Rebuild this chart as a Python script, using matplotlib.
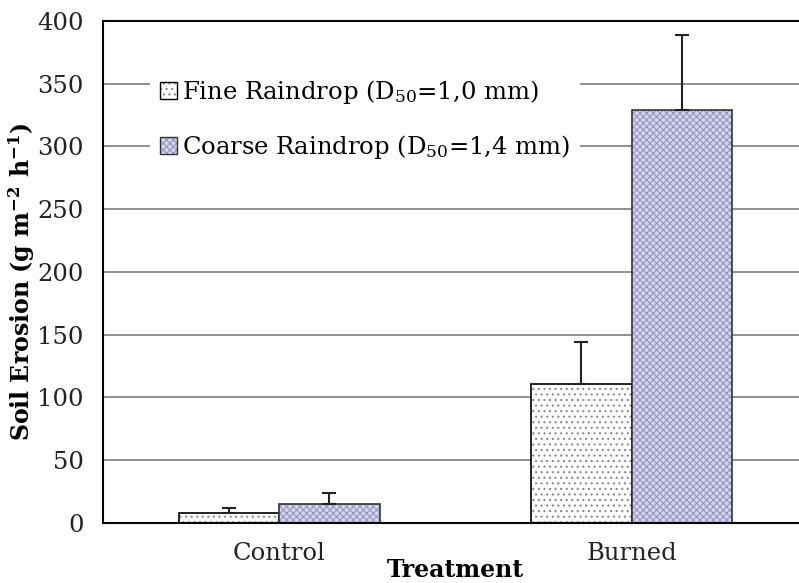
import numpy as np
import matplotlib
matplotlib.use('Agg')
import matplotlib.pyplot as plt
from matplotlib.colors import to_rgba

plt.rcParams['font.family'] = ['DejaVu Serif']
plt.rcParams['mathtext.fontset'] = 'dejavuserif'
plt.rcParams['hatch.linewidth'] = 0.8

treatments = ['Control', 'Burned']
fine_mean = [8, 111]
fine_err = [4, 33]
coarse_mean = [15, 329]
coarse_err = [9, 60]
labels = ['Fine Raindrop (D$_{50}$=1,0 mm)', 'Coarse Raindrop (D$_{50}$=1,4 mm)']

fig = plt.figure(figsize=(7.99, 5.83), dpi=100)
ax = fig.add_axes([0.129, 0.103, 0.882, 0.861])

x = np.arange(len(treatments))
w = 0.285

b1 = ax.bar(x - w / 2, fine_mean, w, color='white', edgecolor='black', linewidth=1.2,
            hatch='...', label=labels[0], zorder=2)
ax.errorbar(x - w / 2, fine_mean, yerr=[np.zeros(2), fine_err], fmt='none',
            ecolor='#222222', elinewidth=1.5, capsize=5, capthick=1.5, zorder=3)

b2 = ax.bar(x + w / 2, coarse_mean, w, color='#d6d6ea', edgecolor='#333333', linewidth=1.2,
            hatch='xxxxx', label=labels[1], zorder=2)
ax.errorbar(x + w / 2, coarse_mean, yerr=[np.zeros(2), coarse_err], fmt='none',
            ecolor='#222222', elinewidth=1.5, capsize=5, capthick=1.5, zorder=3)

# hatch colours per series
for p in b1:
    p._hatch_color = to_rgba('#888888')
for p in b2:
    p._hatch_color = to_rgba('#9595c4')

ax.set_xlim(-0.5, 1.5)
ax.set_ylim(0, 400)
ax.set_yticks(range(0, 401, 50))
ax.set_xticks(x)
ax.set_xticklabels(treatments)
ax.yaxis.grid(True, color='#888888', linewidth=1.3, zorder=0)
ax.set_axisbelow(True)
ax.tick_params(length=0, labelsize=17.5, colors='#222222')
ax.tick_params(axis='y', pad=14)
ax.tick_params(axis='x', pad=14)
ax.spines['right'].set_visible(False)
for s in ['left', 'bottom', 'top']:
    ax.spines[s].set_linewidth(1.5)

ax.set_ylabel('Soil Erosion (g m$^{\\mathbf{-2}}$ h$^{\\mathbf{-1}}$)', fontsize=17,
              fontweight='bold')
ax.yaxis.set_label_coords(-0.094, 0.48)
ax.set_xlabel('Treatment', fontsize=17, fontweight='bold', labelpad=-5)

leg = ax.legend(loc='upper left', bbox_to_anchor=(0.05, 0.93), frameon=True,
                fontsize=17.5, handlelength=0.7, handleheight=0.7, handletextpad=0.2,
                labelspacing=1.1, borderpad=0.4, edgecolor='none', fancybox=False,
                framealpha=1)
for h in leg.legend_handles:
    h.set_linewidth(1.0)

fig.savefig('out.png', dpi=100)
